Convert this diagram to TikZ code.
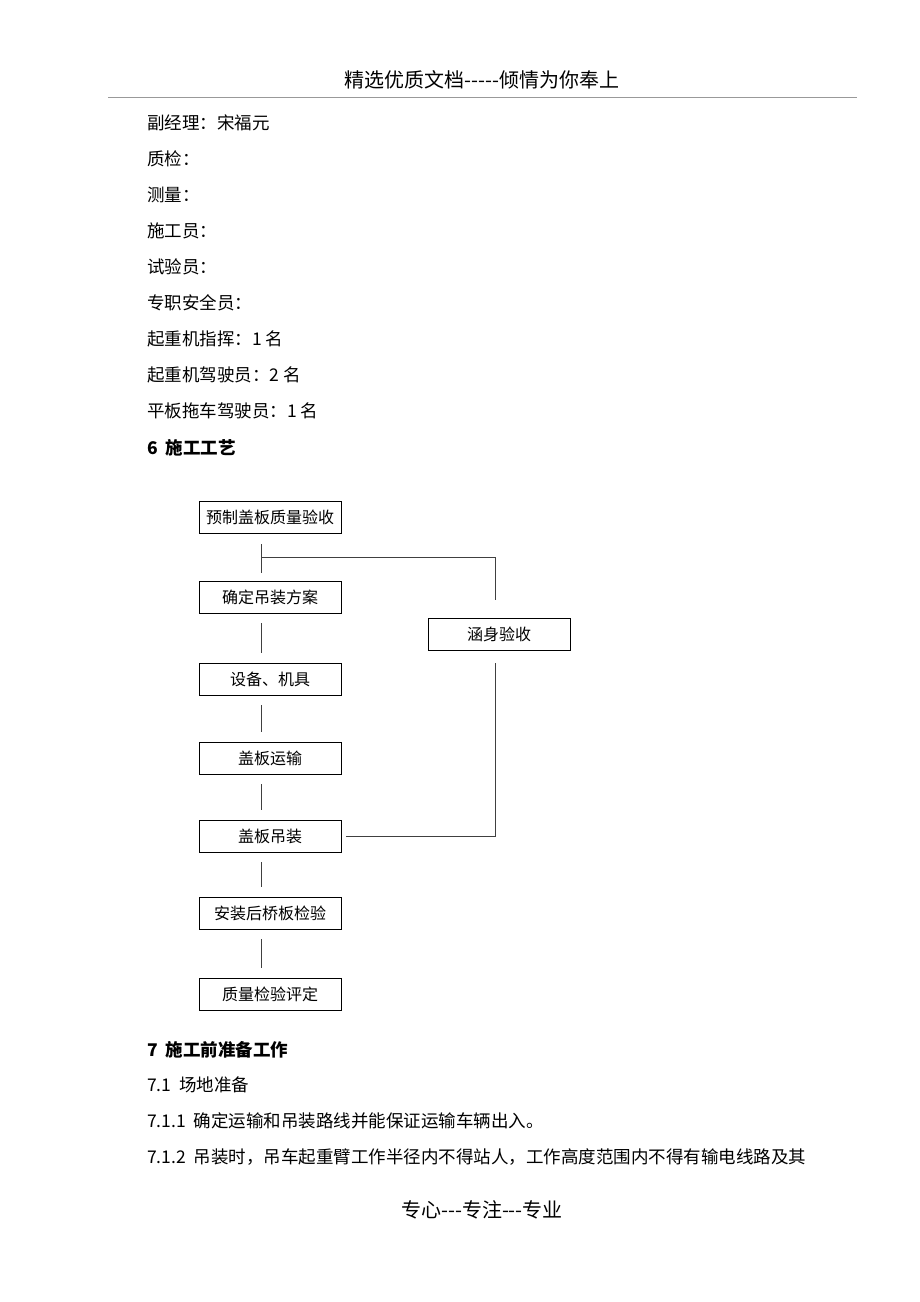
\documentclass[tikz,border=0pt]{standalone}
\usepackage{fontspec}
\setmainfont{Noto Sans CJK SC}
\usetikzlibrary{calc}
\tikzset{
  stepbox/.style={draw,rectangle,minimum width=142pt,minimum height=32pt,inner sep=0pt,font=\fontsize{16pt}{18pt}\selectfont},
  line/.style={draw=black!75,line width=0.8pt},
  txt/.style={anchor=west,inner sep=0pt,font=\fontsize{17.5pt}{20pt}\selectfont}
}
\begin{document}
\begin{tikzpicture}[x=1pt,y=-1pt]
\useasboundingbox (0,0) rectangle (920,1302);
% header and footer
\node (head) at (482,80) {\fontsize{20pt}{22pt}\selectfont 精选优质文档{-}{-}{-}{-}{-}倾情为你奉上};
\draw[black!40] (108,97) -- (857,97);
\node (foot) at (482,1210) {\fontsize{20pt}{22pt}\selectfont 专心{-}{-}{-}专注{-}{-}{-}专业};
% staff list
\node[txt] (t1) at (147,123) {副经理：宋福元};
\node[txt] (t2) at (147,159) {质检：};
\node[txt] (t3) at (147,195) {测量：};
\node[txt] (t4) at (147,231) {施工员：};
\node[txt] (t5) at (147,267) {试验员：};
\node[txt] (t6) at (147,303) {专职安全员：};
\node[txt] (t7) at (147,339) {起重机指挥：1 名};
\node[txt] (t8) at (147,375) {起重机驾驶员：2 名};
\node[txt] (t9) at (147,411) {平板拖车驾驶员：1 名};
\node[txt,font=\fontsize{17.5pt}{20pt}\selectfont\bfseries] (s6) at (147,448) {6\ \ 施工工艺};
% flow chart
\node[stepbox] (yz) at (270,517) {预制盖板质量验收};
\node[stepbox] (fa) at (270,597) {确定吊装方案};
\node[stepbox] (sb) at (270,679) {设备、机具};
\node[stepbox] (ys) at (270,758) {盖板运输};
\node[stepbox] (dz) at (270,836) {盖板吊装};
\node[stepbox] (jq) at (270,913) {安装后桥板检验};
\node[stepbox] (pd) at (270,994) {质量检验评定};
\node[stepbox] (hs) at (499,634) {涵身验收};
\coordinate (j) at (261,557);
\coordinate (c) at (495,836);
\draw[line,shorten <=11pt,shorten >=8pt] (yz.south -| j) -- (fa.north -| j);
\foreach \a/\b in {fa/sb,sb/ys,ys/dz,dz/jq,jq/pd}
  \draw[line,shorten <=10pt,shorten >=10pt] (\a.south -| j) -- (\b.north -| j);
\draw[line,shorten >=18pt] (j) -| (hs.north -| c);
\draw[line,shorten <=13pt] (hs.south -| c) -- (c) -- ([xshift=5pt]dz.east);
% section 7
\node[txt,font=\fontsize{17.5pt}{20pt}\selectfont\bfseries] (s7) at (147,1050) {7\ \ 施工前准备工作};
\node[txt] (s71) at (147,1085) {7.1\ \ 场地准备};
\node[txt] (s711) at (147,1121) {7.1.1\ \ 确定运输和吊装路线并能保证运输车辆出入。};
\node[txt] (s712) at (147,1157) {7.1.2\ \ 吊装时，吊车起重臂工作半径内不得站人，工作高度范围内不得有输电线路及其};
\end{tikzpicture}
\end{document}
